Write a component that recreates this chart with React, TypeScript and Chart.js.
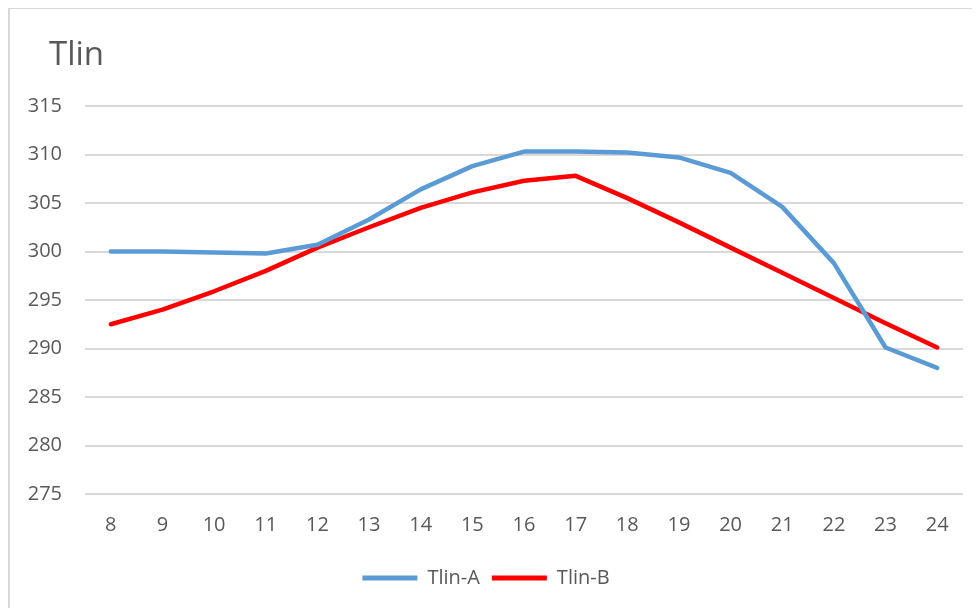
import React, { useEffect, useRef } from "react";
import { Chart, registerables } from "chart.js";

Chart.register(...registerables);

const categories = ["8", "9", "10", "11", "12", "13", "14", "15", "16", "17", "18", "19", "20", "21", "22", "23", "24"];
const tlinA = [300.0, 300.0, 299.9, 299.8, 300.7, 303.3, 306.4, 308.8, 310.3, 310.3, 310.2, 309.7, 308.1, 304.6, 298.8, 290.1, 288.0];
const tlinB = [292.5, 294.0, 295.9, 298.0, 300.4, 302.5, 304.5, 306.1, 307.3, 307.8, 305.5, 303.0, 300.4, 297.8, 295.2, 292.6, 290.1];
const titleText = "Tlin";
const yMin = 275;
const yMax = 315;
const yStep = 5;

const FONT = "'Open Sans', 'Liberation Sans', sans-serif";

const titlePlugin = {
  id: "cornerTitle",
  afterDraw(chart: any) {
    const ctx = chart.ctx;
    ctx.save();
    ctx.fillStyle = "#595959";
    ctx.font = `33px ${FONT}`;
    ctx.textAlign = "left";
    ctx.textBaseline = "alphabetic";
    ctx.fillText(titleText, 40, 57);
    ctx.restore();
  },
};

export default function App() {
  const ref = useRef<HTMLCanvasElement | null>(null);

  useEffect(() => {
    if (!ref.current) return;
    const chart = new Chart(ref.current, {
      type: "line",
      data: {
        labels: categories,
        datasets: [
          {
            label: "Tlin-A",
            data: tlinA,
            borderColor: "#5b9bd5",
            backgroundColor: "#5b9bd5",
            borderWidth: 4.5,
            pointRadius: 0,
            tension: 0,
            borderCapStyle: "round",
            borderJoinStyle: "round",
          },
          {
            label: "Tlin-B",
            data: tlinB,
            borderColor: "#ff0000",
            backgroundColor: "#ff0000",
            borderWidth: 4.5,
            pointRadius: 0,
            tension: 0,
            borderCapStyle: "round",
            borderJoinStyle: "round",
          },
        ],
      },
      options: {
        animation: false,
        responsive: false,
        maintainAspectRatio: false,
        layout: { padding: { left: 0, right: 17, top: 98, bottom: 10 } },
        plugins: {
          title: { display: false },
          tooltip: { enabled: false },
          legend: {
            position: "bottom",
            labels: {
              color: "#595959",
              font: { family: FONT, size: 20 },
              boxWidth: 55,
              boxHeight: 5,
              padding: 12,
              generateLabels(chart: any) {
                return chart.data.datasets.map((ds: any, i: number) => ({
                  text: ds.label,
                  fillStyle: ds.borderColor,
                  strokeStyle: ds.borderColor,
                  lineWidth: 0,
                  hidden: false,
                  datasetIndex: i,
                  fontColor: "#595959",
                }));
              },
            },
          },
        },
        scales: {
          x: {
            type: "category",
            offset: true,
            grid: { display: false, drawTicks: false },
            border: { display: false },
            ticks: {
              color: "#595959",
              font: { family: FONT, size: 20 },
              padding: 19,
              maxRotation: 0,
              autoSkip: false,
            },
            afterFit(scale: any) {
              scale.height = 62;
            },
          },
          y: {
            min: yMin,
            max: yMax,
            grid: { color: "#d9d9d9", lineWidth: 2, drawTicks: false },
            border: { display: false },
            ticks: {
              stepSize: yStep,
              color: "#595959",
              font: { family: FONT, size: 20 },
              padding: 23,
            },
            afterFit(scale: any) {
              scale.width = 76;
            },
          },
        },
      },
      plugins: [titlePlugin],
    });
    return () => chart.destroy();
  }, []);

  return (
    <div
      style={{
        position: "relative",
        marginTop: -1,
        width: 990,
        height: 620,
        borderLeft: "2px solid #d9d9d9",
        borderTop: "2px solid #d9d9d9",
        boxSizing: "border-box",
      }}
    >
      <canvas ref={ref} width={971} height={600} style={{ position: "absolute", left: -1, top: -1, width: 971, height: 600 }} />
    </div>
  );
}
